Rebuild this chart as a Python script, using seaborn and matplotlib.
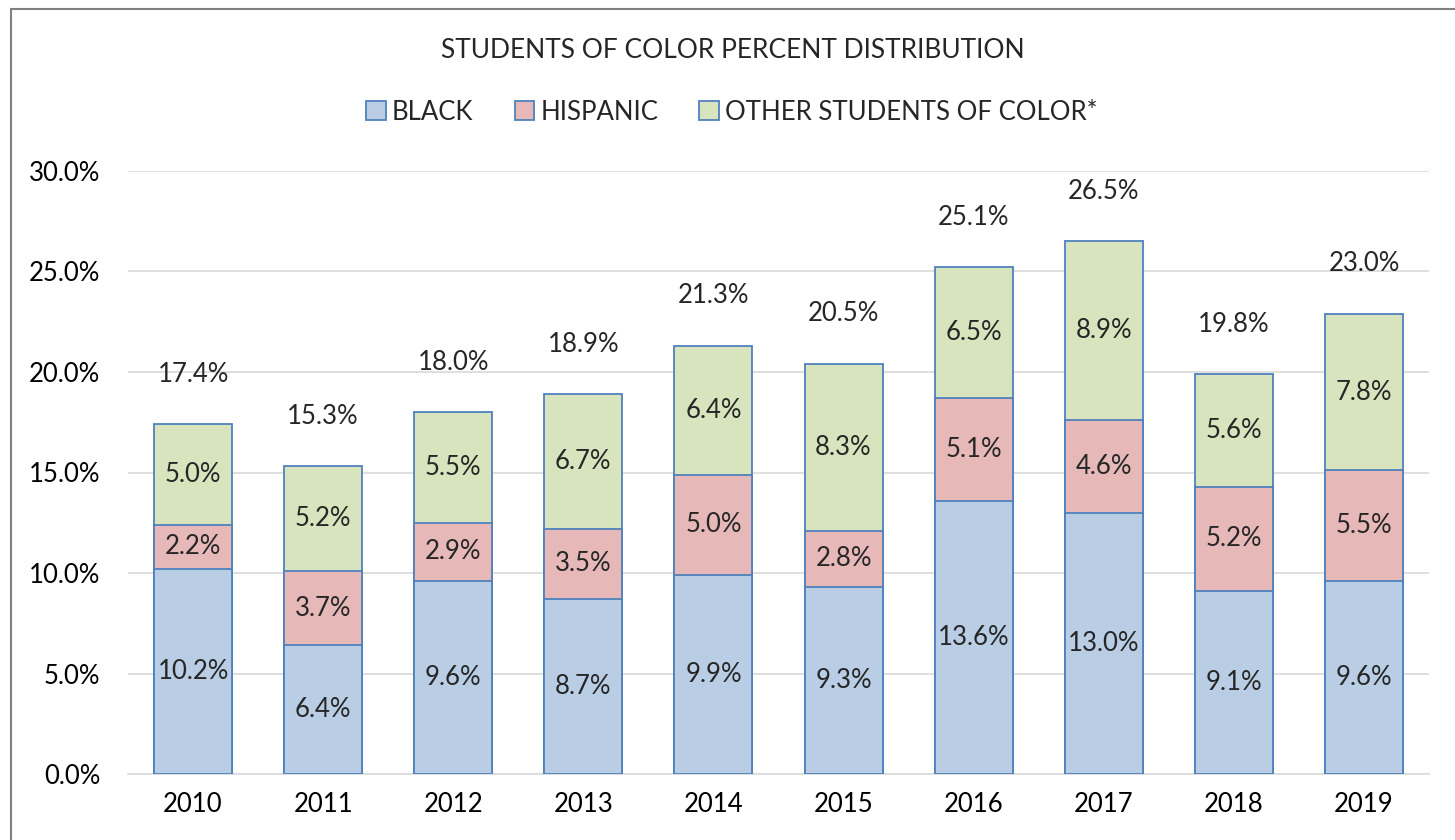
import matplotlib
matplotlib.use("Agg")
import matplotlib.pyplot as plt
import seaborn as sns
import pandas as pd
import numpy as np
from matplotlib.patches import Patch, Rectangle

years = ["2010", "2011", "2012", "2013", "2014", "2015", "2016", "2017", "2018", "2019"]
black = [10.2, 6.4, 9.6, 8.7, 9.9, 9.3, 13.6, 13.0, 9.1, 9.6]
hispanic = [2.2, 3.7, 2.9, 3.5, 5.0, 2.8, 5.1, 4.6, 5.2, 5.5]
other = [5.0, 5.2, 5.5, 6.7, 6.4, 8.3, 6.5, 8.9, 5.6, 7.8]
totals = [17.4, 15.3, 18.0, 18.9, 21.3, 20.5, 25.1, 26.5, 19.8, 23.0]
series_names = ["BLACK", "HISPANIC", "OTHER STUDENTS OF COLOR*"]
colors = ["#B9CDE5", "#E6B9B8", "#D7E4BD"]
edge = "#4F81BD"

sns.set_theme(style="white")
plt.rcParams["font.family"] = ["Lato", "DejaVu Sans"]

df = pd.DataFrame({"year": years, "black": black, "hispanic": hispanic, "other": other})
df["c1"] = df["black"]
df["c2"] = df["black"] + df["hispanic"]
df["c3"] = df["c2"] + df["other"]

fig = plt.figure(figsize=(14.55, 8.4), dpi=100)
ax = fig.add_axes([128 / 1455, 1 - 774 / 840, (1429 - 128) / 1455, (774 - 171) / 840])

for col, c in zip(["c3", "c2", "c1"], colors[::-1]):
    sns.barplot(data=df, x="year", y=col, color=c, width=0.6, edgecolor=edge,
                linewidth=1.3, saturation=1, ax=ax, zorder=3)

fs = 18.5
ax.set_ylim(0, 30)
ax.set_xlim(-0.5, 9.5)
ax.set_yticks(np.arange(0, 31, 5))
ax.set_yticklabels([f"{v:.1f}%" for v in np.arange(0, 31, 5)])
ax.yaxis.grid(True, color="#D9D9D9", linewidth=1.2, zorder=0)
ax.set_axisbelow(True)
for s in ["top", "right", "left"]:
    ax.spines[s].set_visible(False)
ax.spines["bottom"].set_color("#D9D9D9")
ax.spines["bottom"].set_linewidth(1.2)
ax.tick_params(axis="both", length=0, labelsize=fs, colors="black")
ax.tick_params(axis="y", pad=20)
ax.tick_params(axis="x", pad=13)
ax.set_xlabel("")
ax.set_ylabel("")

for i in range(len(years)):
    b, h, o = black[i], hispanic[i], other[i]
    ax.text(i, b / 2, f"{b:.1f}%", ha="center", va="center", fontsize=fs, zorder=5)
    ax.text(i, b + h / 2, f"{h:.1f}%", ha="center", va="center", fontsize=fs, zorder=5)
    ax.text(i, b + h + o / 2, f"{o:.1f}%", ha="center", va="center", fontsize=fs, zorder=5)
    ax.annotate(f"{totals[i]:.1f}%", (i, b + h + o), xytext=(0, 36), textcoords="offset points",
                ha="center", va="center", fontsize=fs)

handles = [Patch(facecolor=c, edgecolor=edge, linewidth=1.3) for c in colors]
fig.legend(handles, series_names, loc="center", bbox_to_anchor=(732 / 1455, 1 - 112 / 840),
           ncol=3, frameon=False, fontsize=fs, handlelength=0.75, handleheight=0.75,
           handletextpad=0.25, columnspacing=1.6)

fig.text(733 / 1455, 1 - 50 / 840, "STUDENTS OF COLOR PERCENT DISTRIBUTION",
         ha="center", va="center", fontsize=19)

fig.patches.append(Rectangle((10.5 / 1455, -0.5), 1.5, 1.5 - 8.5 / 840, transform=fig.transFigure,
                             fill=False, edgecolor="#808080", linewidth=1.5))

fig.savefig("out.png", dpi=100)
